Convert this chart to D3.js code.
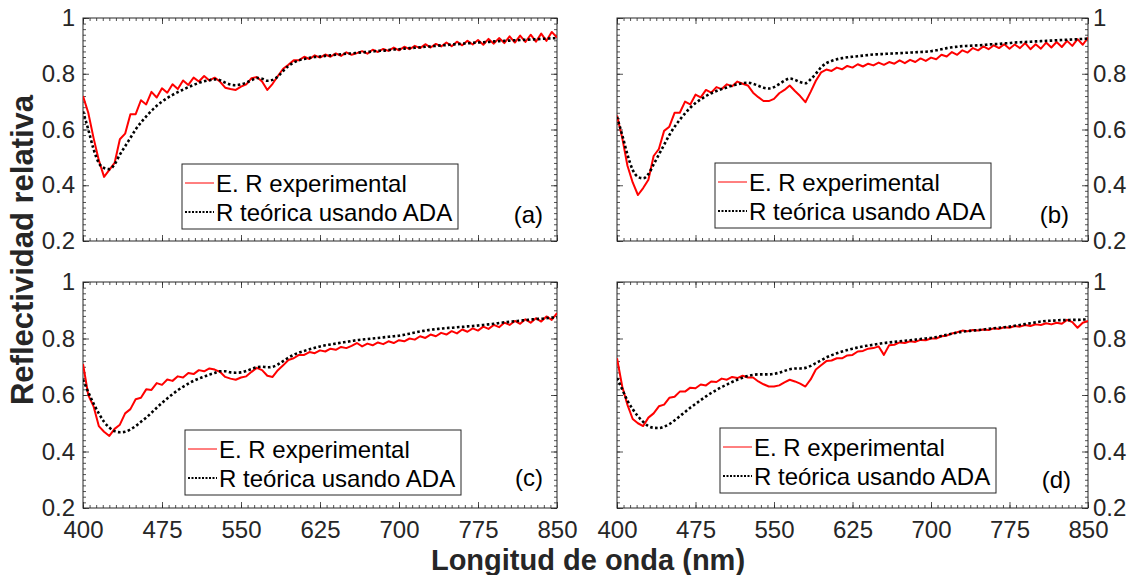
<!DOCTYPE html>
<html>
<head>
<meta charset="utf-8">
<script src="https://cdn.jsdelivr.net/npm/d3@7"></script>
<style>
  body { margin: 0; background: #fff; }
  svg text { font-family: "Liberation Sans", Arial, sans-serif; }
</style>
</head>
<body>
<div id="chart"></div>
<script>
const width = 1133;
const height = 575;

// wavelength grid (nm)
const wl = [400,405,410,415,420,425,430,435,440,445,450,455,460,465,470,475,480,485,490,495,
  500,505,510,515,520,525,530,535,540,545,550,555,560,565,570,575,580,585,590,595,
  600,605,610,615,620,625,630,635,640,645,650,655,660,665,670,675,680,685,690,695,
  700,705,710,715,720,725,730,735,740,745,750,755,760,765,770,775,780,785,790,795,
  800,805,810,815,820,825,830,835,840,845,850];

// (a)
const expA = [0.72,0.66,0.57,0.49,0.43,0.455,0.48,0.565,0.585,0.655,0.655,0.705,0.69,0.735,0.715,0.748,0.732,0.762,0.745,0.776,
  0.76,0.786,0.772,0.792,0.776,0.786,0.772,0.75,0.745,0.742,0.754,0.762,0.784,0.788,0.772,0.742,0.764,0.792,0.818,0.832,
  0.848,0.848,0.861,0.853,0.866,0.858,0.869,0.861,0.873,0.864,0.877,0.868,0.874,0.881,0.872,0.886,0.878,0.889,0.882,0.894,
  0.884,0.897,0.888,0.9,0.892,0.906,0.894,0.907,0.898,0.912,0.899,0.915,0.902,0.918,0.905,0.921,0.904,0.925,0.908,0.928,
  0.91,0.934,0.912,0.937,0.914,0.94,0.915,0.944,0.918,0.95,0.93];
const adaA = [0.665,0.6,0.53,0.48,0.462,0.458,0.475,0.51,0.54,0.57,0.6,0.625,0.647,0.667,0.685,0.7,0.713,0.724,0.734,0.743,
  0.752,0.76,0.767,0.773,0.777,0.78,0.777,0.768,0.761,0.759,0.762,0.768,0.777,0.785,0.782,0.775,0.778,0.79,0.81,0.828,
  0.84,0.848,0.853,0.857,0.86,0.862,0.864,0.866,0.868,0.87,0.872,0.873,0.875,0.877,0.878,0.88,0.882,0.883,0.885,0.887,
  0.888,0.89,0.892,0.893,0.895,0.897,0.898,0.9,0.902,0.903,0.905,0.906,0.908,0.909,0.911,0.912,0.913,0.914,0.916,0.917,
  0.918,0.919,0.92,0.921,0.922,0.923,0.924,0.925,0.926,0.927,0.928];

// (b)
const expB = [0.65,0.57,0.47,0.41,0.365,0.39,0.42,0.505,0.53,0.595,0.61,0.66,0.66,0.7,0.69,0.725,0.715,0.742,0.732,0.752,
  0.745,0.762,0.755,0.772,0.764,0.758,0.732,0.716,0.702,0.702,0.71,0.73,0.742,0.758,0.738,0.72,0.698,0.735,0.775,0.805,
  0.815,0.81,0.822,0.816,0.828,0.822,0.834,0.826,0.836,0.83,0.84,0.832,0.842,0.836,0.848,0.838,0.85,0.842,0.855,0.846,
  0.858,0.852,0.868,0.862,0.878,0.868,0.884,0.876,0.892,0.884,0.898,0.888,0.902,0.892,0.906,0.89,0.905,0.892,0.91,0.888,
  0.906,0.89,0.912,0.894,0.914,0.896,0.918,0.9,0.924,0.904,0.93];
const adaB = [0.645,0.58,0.51,0.455,0.43,0.425,0.44,0.475,0.51,0.545,0.58,0.61,0.635,0.658,0.678,0.695,0.708,0.72,0.73,0.738,
  0.745,0.751,0.757,0.762,0.766,0.768,0.764,0.757,0.75,0.747,0.752,0.763,0.775,0.783,0.778,0.77,0.766,0.78,0.8,0.823,
  0.838,0.846,0.852,0.856,0.859,0.861,0.863,0.865,0.867,0.869,0.87,0.871,0.872,0.873,0.874,0.875,0.876,0.877,0.878,0.879,
  0.881,0.884,0.888,0.892,0.895,0.897,0.899,0.9,0.901,0.902,0.903,0.905,0.906,0.907,0.909,0.91,0.912,0.913,0.914,0.915,
  0.916,0.917,0.918,0.919,0.92,0.921,0.922,0.923,0.924,0.925,0.926];

// (c)
const expC = [0.71,0.6,0.56,0.49,0.47,0.455,0.48,0.495,0.535,0.55,0.585,0.59,0.62,0.618,0.642,0.636,0.655,0.65,0.666,0.662,
  0.678,0.674,0.688,0.684,0.694,0.69,0.682,0.664,0.658,0.654,0.662,0.666,0.682,0.696,0.688,0.668,0.664,0.688,0.705,0.724,
  0.73,0.742,0.742,0.752,0.748,0.758,0.754,0.764,0.76,0.77,0.766,0.774,0.784,0.772,0.782,0.776,0.786,0.78,0.79,0.784,
  0.794,0.79,0.8,0.796,0.808,0.802,0.814,0.808,0.82,0.814,0.826,0.818,0.832,0.824,0.836,0.828,0.842,0.834,0.848,0.84,
  0.856,0.848,0.862,0.852,0.868,0.856,0.872,0.86,0.878,0.866,0.89];
const adaC = [0.655,0.61,0.57,0.535,0.505,0.485,0.472,0.468,0.47,0.478,0.49,0.505,0.52,0.537,0.555,0.572,0.588,0.603,0.617,0.629,
  0.64,0.65,0.658,0.665,0.672,0.678,0.684,0.684,0.68,0.679,0.68,0.685,0.692,0.698,0.7,0.698,0.7,0.708,0.72,0.732,
  0.742,0.75,0.756,0.762,0.767,0.772,0.776,0.779,0.782,0.785,0.788,0.791,0.794,0.796,0.798,0.8,0.802,0.804,0.806,0.808,
  0.81,0.813,0.817,0.821,0.825,0.828,0.831,0.833,0.835,0.837,0.838,0.84,0.841,0.843,0.844,0.846,0.848,0.85,0.852,0.855,
  0.857,0.859,0.861,0.863,0.865,0.867,0.869,0.87,0.872,0.874,0.875];

// (d)
const expD = [0.73,0.63,0.565,0.515,0.5,0.49,0.52,0.535,0.56,0.566,0.59,0.594,0.612,0.612,0.626,0.624,0.637,0.634,0.648,0.646,
  0.658,0.654,0.664,0.66,0.668,0.662,0.662,0.648,0.638,0.63,0.63,0.634,0.645,0.654,0.648,0.64,0.63,0.655,0.69,0.705,
  0.72,0.722,0.73,0.73,0.74,0.742,0.754,0.756,0.764,0.766,0.772,0.742,0.776,0.778,0.786,0.784,0.79,0.788,0.795,0.794,
  0.8,0.8,0.808,0.81,0.818,0.822,0.828,0.826,0.83,0.828,0.832,0.83,0.836,0.834,0.84,0.838,0.844,0.842,0.848,0.844,
  0.85,0.848,0.854,0.85,0.856,0.852,0.866,0.858,0.838,0.856,0.862];
const adaD = [0.66,0.62,0.58,0.55,0.525,0.505,0.49,0.484,0.483,0.488,0.497,0.51,0.525,0.54,0.555,0.568,0.582,0.595,0.607,0.618,
  0.628,0.637,0.646,0.654,0.661,0.667,0.671,0.673,0.673,0.673,0.675,0.679,0.685,0.691,0.694,0.694,0.696,0.703,0.713,0.723,
  0.733,0.741,0.748,0.754,0.759,0.764,0.768,0.772,0.775,0.778,0.781,0.784,0.786,0.788,0.79,0.792,0.794,0.796,0.798,0.8,
  0.802,0.805,0.809,0.813,0.817,0.821,0.824,0.826,0.828,0.83,0.832,0.834,0.836,0.838,0.84,0.842,0.845,0.848,0.851,0.854,
  0.857,0.86,0.862,0.863,0.864,0.865,0.865,0.866,0.866,0.867,0.867];

const xTicks = [400, 475, 550, 625, 700, 775, 850];
const yTicks = [0.2, 0.4, 0.6, 0.8, 1];
const legendLabels = ["E. R experimental", "R teórica usando ADA"];
const panelTags = ["(a)", "(b)", "(c)", "(d)"];

const xMinor = d3.range(400, 850.01, 6.25);
const yMinor = d3.range(0.2, 1.001, 0.02);
const axisColor = "#262626";

const panels = [
  { exp: expA, ada: adaA, tag: panelTags[0], left: 83, right: 557, top: 18, bottom: 241, side: "left", xLabels: false, leg: [182, 164], tagPos: [543, 223] },
  { exp: expB, ada: adaB, tag: panelTags[1], left: 617, right: 1088, top: 18, bottom: 241, side: "right", xLabels: false, leg: [715, 163], tagPos: [1069, 223] },
  { exp: expC, ada: adaC, tag: panelTags[2], left: 83, right: 557, top: 282, bottom: 508, side: "left", xLabels: true, leg: [185, 430], tagPos: [543, 486] },
  { exp: expD, ada: adaD, tag: panelTags[3], left: 617, right: 1088, top: 282, bottom: 508, side: "right", xLabels: true, leg: [720, 428], tagPos: [1071, 488] },
];

const svg = d3
  .select("#chart")
  .append("svg")
  .attr("width", width)
  .attr("height", height);

svg.append("rect").attr("width", width).attr("height", height).attr("fill", "#fff");

const fmt = d3.format("~g");

panels.forEach((p, i) => {
  const x = d3.scaleLinear().domain([400, 850]).range([p.left, p.right]);
  const y = d3.scaleLinear().domain([0.2, 1]).range([p.bottom, p.top]);

  const g = svg.append("g");

  const clipId = "clip" + i;
  g.append("clipPath")
    .attr("id", clipId)
    .append("rect")
    .attr("x", p.left)
    .attr("y", p.top)
    .attr("width", p.right - p.left)
    .attr("height", p.bottom - p.top);

  // ticks on all four sides, pointing inward
  const addAxis = (axis, tx, ty, labels) => {
    const a = g.append("g")
      .attr("transform", `translate(${tx},${ty})`)
      .attr("color", axisColor)
      .call(axis);
    a.select(".domain").remove();
    a.selectAll("line").attr("stroke-width", 0.8);
    if (labels) {
      a.selectAll("text")
        .attr("font-size", 24)
        .attr("fill", axisColor)
        .style("font-family", "Liberation Sans, Arial, sans-serif");
    } else {
      a.selectAll("text").remove();
    }
  };

  addAxis(d3.axisBottom(x).tickValues(xMinor).tickSize(-3).tickFormat(""), 0, p.bottom, false);
  addAxis(d3.axisTop(x).tickValues(xMinor).tickSize(-3).tickFormat(""), 0, p.top, false);
  addAxis(d3.axisTop(x).tickValues(xTicks).tickSize(-6).tickFormat(""), 0, p.top, false);
  addAxis(d3.axisBottom(x).tickValues(xTicks).tickSize(-6).tickPadding(13).tickFormat(fmt), 0, p.bottom, p.xLabels);

  addAxis(d3.axisLeft(y).tickValues(yMinor).tickSize(-3).tickFormat(""), p.left, 0, false);
  addAxis(d3.axisRight(y).tickValues(yMinor).tickSize(-3).tickFormat(""), p.right, 0, false);
  addAxis(d3.axisLeft(y).tickValues(yTicks).tickSize(-6).tickPadding(8).tickFormat(fmt), p.left, 0, p.side === "left");
  addAxis(d3.axisRight(y).tickValues(yTicks).tickSize(-6).tickPadding(5).tickFormat(fmt), p.right, 0, p.side === "right");

  g.append("rect")
    .attr("x", p.left)
    .attr("y", p.top)
    .attr("width", p.right - p.left)
    .attr("height", p.bottom - p.top)
    .attr("fill", "none")
    .attr("stroke", axisColor)
    .attr("stroke-width", 1);

  const line = d3.line()
    .x((d, k) => x(wl[k]))
    .y((d) => y(d));

  const plot = g.append("g").attr("clip-path", `url(#${clipId})`);

  plot.append("path")
    .datum(p.exp)
    .attr("d", line)
    .attr("fill", "none")
    .attr("stroke", "#ff0000")
    .attr("stroke-width", 2)
    .attr("stroke-linejoin", "round");

  plot.append("path")
    .datum(p.ada)
    .attr("d", line.curve(d3.curveMonotoneX))
    .attr("fill", "none")
    .attr("stroke", "#000")
    .attr("stroke-width", 2.6)
    .attr("stroke-dasharray", "2.6,2.4");

  // legend
  const [lx, ly] = p.leg;
  const leg = g.append("g").attr("transform", `translate(${lx},${ly})`);
  leg.append("rect")
    .attr("width", 276)
    .attr("height", 65)
    .attr("fill", "#fff")
    .attr("stroke", axisColor)
    .attr("stroke-width", 1);
  leg.append("line")
    .attr("x1", 3).attr("x2", 32).attr("y1", 19).attr("y2", 19)
    .attr("stroke", "#ff0000").attr("stroke-width", 1);
  leg.append("line")
    .attr("x1", 3).attr("x2", 32).attr("y1", 48).attr("y2", 48)
    .attr("stroke", "#000").attr("stroke-width", 2)
    .attr("stroke-dasharray", "2,1.5");
  leg.selectAll("text.lab")
    .data(legendLabels)
    .join("text")
    .attr("class", "lab")
    .attr("x", 34)
    .attr("y", (d, k) => 28 + k * 29)
    .attr("font-size", 24)
    .attr("fill", "#000")
    .text((d) => d);

  g.append("text")
    .attr("x", p.tagPos[0])
    .attr("y", p.tagPos[1])
    .attr("text-anchor", "end")
    .attr("font-size", 24)
    .attr("fill", "#000")
    .text(p.tag);
});

// shared axis titles
svg.append("text")
  .attr("transform", "translate(33,250) rotate(-90)")
  .attr("text-anchor", "middle")
  .attr("font-size", 31)
  .attr("font-weight", "bold")
  .attr("fill", axisColor)
  .text("Reflectividad relativa");

svg.append("text")
  .attr("x", 588)
  .attr("y", 570)
  .attr("text-anchor", "middle")
  .attr("font-size", 29)
  .attr("font-weight", "bold")
  .attr("fill", axisColor)
  .text("Longitud de onda (nm)");
</script>
</body>
</html>
